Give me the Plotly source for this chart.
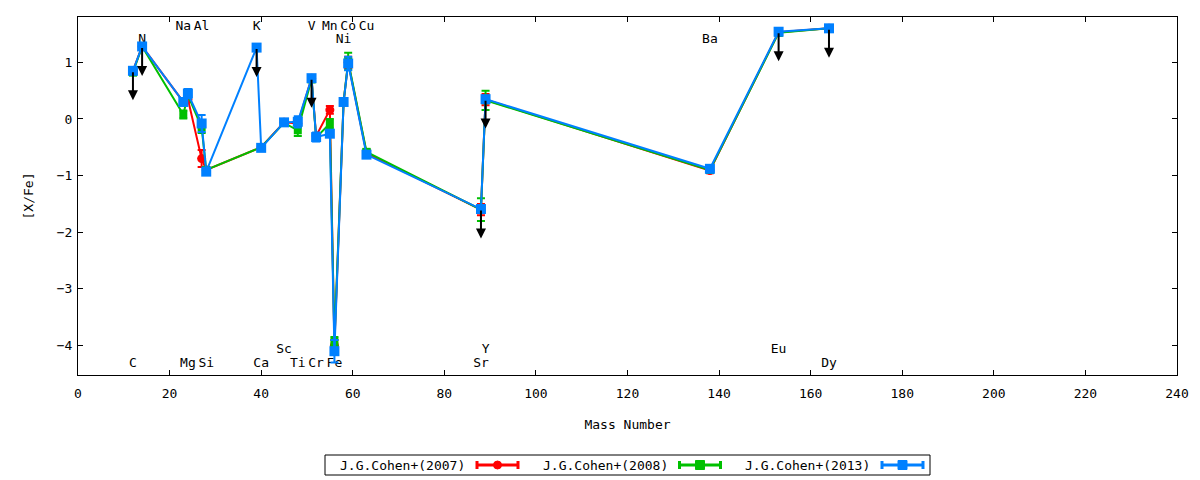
"""
[X/Fe] abundance pattern versus mass number for three Cohen et al. papers.
"""

import plotly.graph_objects as go

# element order follows mass number
elements = ["C", "N", "Na", "Mg", "Al", "Si", "K", "Ca", "Sc", "Ti", "V",
            "Cr", "Mn", "Fe", "Ni", "Co", "Cu", "Sr", "Y", "Ba", "Eu", "Dy"]
mass = [12, 14, 23, 24, 27, 28, 39, 40, 45, 48, 51,
        52, 55, 56, 58, 59, 63, 88, 89, 138, 153, 164]

# None = element not measured in that paper
cohen2007 = [0.85, 1.28, 0.30, 0.35, -0.70, -0.90, None, -0.50, -0.06, -0.08, 0.72,
             -0.30, 0.16, -4.00, 0.30, 1.00, -0.60, -1.60, 0.34, -0.91, 1.53, 1.60]
cohen2007_err = [0.05, 0.05, 0.05, 0.05, 0.15, 0.05, None, 0.05, 0.05, 0.05, 0.05,
                 0.05, 0.07, 0.10, 0.05, 0.10, 0.05, 0.10, 0.10, 0.05, 0.05, 0.05]

cohen2008 = [0.82, 1.28, 0.08, 0.42, -0.15, -0.90, None, -0.50, -0.07, -0.20, 0.70,
             -0.33, -0.08, -3.93, 0.30, 1.02, -0.58, -1.60, 0.33, -0.90, 1.52, 1.60]
cohen2008_err = [0.05, 0.05, 0.07, 0.05, 0.10, 0.05, None, 0.05, 0.05, 0.10, 0.05,
                 0.05, 0.08, 0.08, 0.05, 0.15, 0.05, 0.20, 0.17, 0.05, 0.05, 0.05]

cohen2013 = [0.85, 1.28, 0.30, 0.45, -0.08, -0.93, 1.26, -0.51, -0.06, -0.05, 0.72,
             -0.32, -0.26, -4.10, 0.30, 0.98, -0.63, -1.59, 0.35, -0.88, 1.54, 1.60]
cohen2013_err = [0.05, 0.05, 0.05, 0.08, 0.15, 0.05, 0.05, 0.05, 0.05, 0.10, 0.05,
                 0.08, 0.05, 0.20, 0.05, 0.12, 0.05, 0.05, 0.05, 0.05, 0.05, 0.05]

series_names = ["J.G.Cohen+(2007)", "J.G.Cohen+(2008)", "J.G.Cohen+(2013)"]

# upper limits (drawn from the 2013 values)
upper_limits = ["C", "N", "K", "V", "Sr", "Y", "Eu", "Dy"]

# element label heights
label_y = {
    "Na": 1.63, "Al": 1.63, "K": 1.63, "V": 1.63, "Mn": 1.63, "Co": 1.63, "Cu": 1.63,
    "N": 1.40, "Ni": 1.40, "Ba": 1.40,
    "Sc": -4.08, "Y": -4.08, "Eu": -4.08,
    "C": -4.33, "Mg": -4.33, "Si": -4.33, "Ca": -4.33, "Ti": -4.33, "Cr": -4.33,
    "Fe": -4.33, "Sr": -4.33, "Dy": -4.33,
}

FONT = "DejaVu Sans Mono"
ARROW_LEN = 0.52
STYLES = [("#ff0000", "circle", 9), ("#00c000", "square", 8), ("#0080ff", "square", 10)]

# plot box in page pixels (page body adds 8px before the figure)
BOX_L, BOX_R, BOX_T, BOX_B = 78, 1177, 17, 375


def px(sx):
    return (sx - BOX_L) / (BOX_R - BOX_L)


def py(sy):
    return (BOX_B - sy) / (BOX_B - BOX_T)


def series_trace(name, values, errors, color, symbol, size):
    xs, ys, es = [], [], []
    for m, v, e in zip(mass, values, errors):
        if v is None:
            continue
        xs.append(m)
        ys.append(v)
        es.append(e)
    return go.Scatter(
        x=xs, y=ys, name=name, mode="lines+markers", showlegend=False,
        line=dict(color=color, width=2),
        marker=dict(color=color, symbol=symbol, size=size),
        error_y=dict(type="data", array=es, color=color, thickness=2, width=4),
    )


def add_gnuplot_key(fig):
    # boxed key under the plot: title text first, then the line sample
    fig.add_shape(type="rect", xref="paper", yref="paper",
                  x0=px(325), x1=px(930), y0=py(455), y1=py(475),
                  line=dict(color="black", width=1), fillcolor="white")
    yc = py(465)
    cap = (py(461) - py(469)) / 2
    for k, (name, (color, symbol, _)) in enumerate(zip(series_names, STYLES)):
        text_end = 467 + k * 202.5
        s0, s1 = text_end + 10, text_end + 51
        fig.add_annotation(x=px(text_end), y=yc, xref="paper", yref="paper",
                           text=name, showarrow=False, xanchor="right", yanchor="middle",
                           font=dict(family=FONT, size=13, color="black"))
        fig.add_shape(type="line", xref="paper", yref="paper",
                      x0=px(s0), x1=px(s1), y0=yc, y1=yc,
                      line=dict(color=color, width=3))
        for sx in (s0, s1):
            fig.add_shape(type="line", xref="paper", yref="paper",
                          x0=px(sx), x1=px(sx), y0=yc - cap, y1=yc + cap,
                          line=dict(color=color, width=3))
        mid = (s0 + s1) / 2
        half = 4 if symbol == "circle" else 4.5
        fig.add_shape(type="circle" if symbol == "circle" else "rect",
                      xref="paper", yref="paper",
                      x0=px(mid - half), x1=px(mid + half),
                      y0=py(465 + half), y1=py(465 - half),
                      line=dict(color=color, width=1), fillcolor=color)


def build_figure():
    fig = go.Figure()

    # labels go first so the data sits on top of them
    lab_el = [el for el in elements if el in label_y]
    fig.add_trace(go.Scatter(
        x=[mass[elements.index(el)] for el in lab_el],
        y=[label_y[el] for el in lab_el],
        text=lab_el, mode="text", textposition="middle center",
        textfont=dict(family=FONT, size=13, color="black"),
        showlegend=False, hoverinfo="skip",
    ))

    for name, vals, errs, (color, symbol, size) in zip(
            series_names, [cohen2007, cohen2008, cohen2013],
            [cohen2007_err, cohen2008_err, cohen2013_err], STYLES):
        fig.add_trace(series_trace(name, vals, errs, color, symbol, size))

    for el in upper_limits:
        i = elements.index(el)
        v = cohen2013[i]
        fig.add_annotation(
            x=mass[i], y=v - ARROW_LEN, ax=mass[i], ay=v,
            xref="x", yref="y", axref="x", ayref="y",
            showarrow=True, arrowhead=2, arrowsize=1, arrowwidth=2,
            arrowcolor="black", text="",
        )

    add_gnuplot_key(fig)

    axis_common = dict(
        showline=True, linecolor="black", linewidth=1, mirror="ticks",
        ticks="inside", ticklen=5, tickcolor="black", showgrid=False,
        zeroline=False, automargin=False,
        tickfont=dict(family=FONT, size=13, color="black"),
    )
    # page body adds an 8px offset, so the figure is sized to fit inside it
    fig.update_layout(
        width=1192, height=472, showlegend=False,
        paper_bgcolor="white", plot_bgcolor="white",
        margin=dict(l=70, r=23, t=9, b=105),
        font=dict(family=FONT, size=13, color="black"),
        xaxis=dict(range=[0, 240], dtick=20, ticklabelstandoff=6,
                   title=dict(text="Mass Number", standoff=20,
                              font=dict(family=FONT, size=13)),
                   **axis_common),
        yaxis=dict(range=[-4.52, 1.80], dtick=1, ticklabelstandoff=2,
                   title=dict(text="[X/Fe]", standoff=20,
                              font=dict(family=FONT, size=13)),
                   **axis_common),
    )
    return fig


if __name__ == "__main__":
    fig = build_figure()
    fig.write_html("out.html")
